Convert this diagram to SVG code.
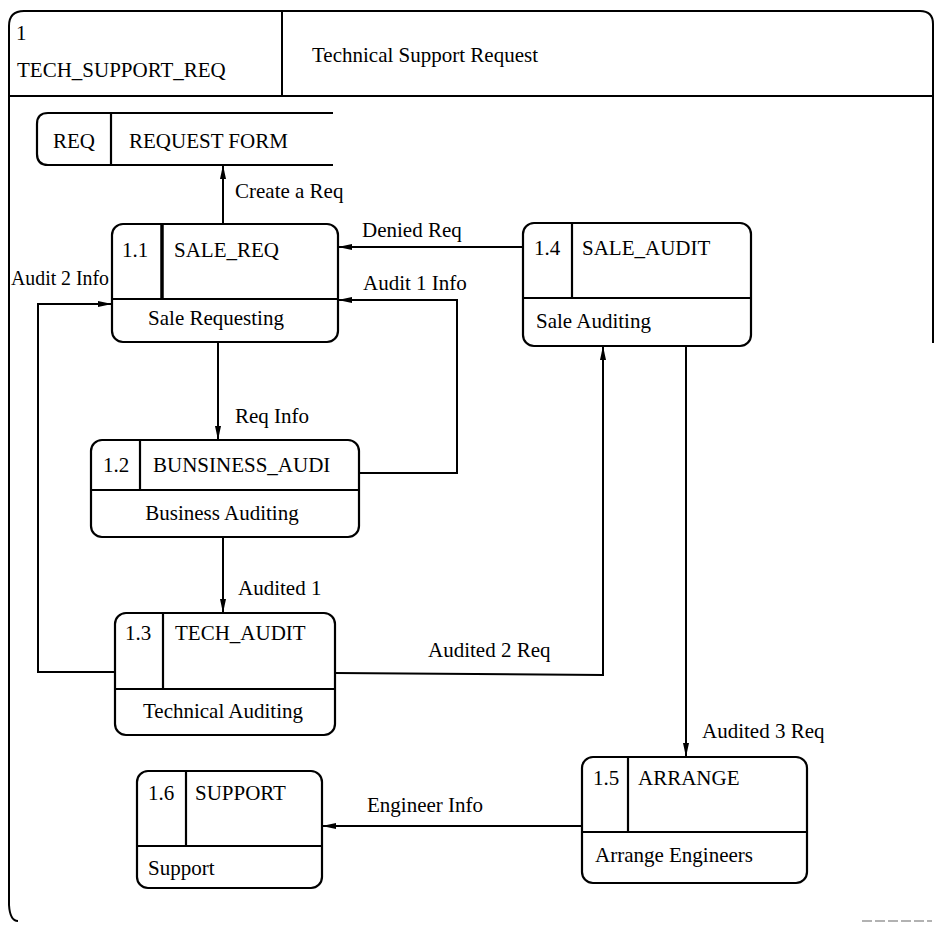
<svg xmlns="http://www.w3.org/2000/svg" width="936" height="925" viewBox="0 0 936 925" font-family="'Liberation Serif','Times New Roman',Times,serif">
<style>
text{font-family:"Liberation Serif","Times New Roman",Times,serif;font-size:21px;fill:#000}
.ln{fill:none;stroke:#000;stroke-width:2}
.box{fill:none;stroke:#000;stroke-width:2.2}
.c{text-anchor:middle}
</style>
<defs>
<marker id="ah" markerWidth="14" markerHeight="8" refX="13" refY="4" orient="auto" markerUnits="userSpaceOnUse">
<path d="M0,1 L14,4 L0,7 Z" fill="#000"/>
</marker>
</defs>
<rect width="936" height="925" fill="#fff"/>
<g id="frame">
<path class="ln" d="M9,905 L9,26 Q9,11 24,11 L920,11 Q933,11 933,24 L933,343"/>
<path class="ln" d="M9,905 Q10,921 18,921"/>
<line class="ln" x1="9" y1="96" x2="933" y2="96"/>
<line class="ln" x1="282" y1="11" x2="282" y2="96"/>
<line x1="862" y1="921" x2="932" y2="921" stroke="#999" stroke-width="1.5" stroke-dasharray="10,3"/>
<text x="16" y="40">1</text>
<text x="17" y="77">TECH_SUPPORT_REQ</text>
<text x="312" y="62">Technical Support Request</text>
</g>
<g id="store-req">
<path class="box" d="M333,113 L48,113 Q37,113 37,124 L37,154 Q37,165 48,165 L333,165"/>
<line class="box" x1="111" y1="113" x2="111" y2="165"/>
<text x="53" y="148">REQ</text>
<text x="129" y="148">REQUEST FORM</text>
</g>
<g id="n11">
<rect class="box" x="112" y="224" width="226" height="118" rx="11"/>
<line x1="162" y1="224" x2="162" y2="299" stroke="#000" stroke-width="3.5"/>
<line class="box" x1="112" y1="299" x2="338" y2="299"/>
<text x="122" y="257">1.1</text>
<text x="174" y="257">SALE_REQ</text>
<text class="c" x="216" y="325">Sale Requesting</text>
</g>
<g id="n14">
<rect class="box" x="523" y="223" width="228" height="123" rx="11"/>
<line class="box" x1="572" y1="223" x2="572" y2="298"/>
<line class="box" x1="523" y1="298" x2="751" y2="298"/>
<text x="534" y="255">1.4</text>
<text x="582" y="255">SALE_AUDIT</text>
<text x="536" y="328">Sale Auditing</text>
</g>
<g id="n12">
<rect class="box" x="91" y="440" width="268" height="97" rx="11"/>
<line class="box" x1="140" y1="440" x2="140" y2="490"/>
<line class="box" x1="91" y1="490" x2="359" y2="490"/>
<text x="103" y="472">1.2</text>
<text x="153" y="472">BUNSINESS_AUDI</text>
<text class="c" x="222" y="520">Business Auditing</text>
</g>
<g id="n13">
<rect class="box" x="115" y="613" width="220" height="122" rx="11"/>
<line class="box" x1="163" y1="613" x2="163" y2="689"/>
<line class="box" x1="115" y1="689" x2="335" y2="689"/>
<text x="125" y="640">1.3</text>
<text x="175" y="640">TECH_AUDIT</text>
<text class="c" x="223" y="718">Technical Auditing</text>
</g>
<g id="n15">
<rect class="box" x="582" y="757" width="225" height="126" rx="11"/>
<line class="box" x1="628" y1="757" x2="628" y2="832"/>
<line class="box" x1="582" y1="832" x2="807" y2="832"/>
<text x="593" y="785">1.5</text>
<text x="638" y="785">ARRANGE</text>
<text x="595" y="862">Arrange Engineers</text>
</g>
<g id="n16">
<rect class="box" x="137" y="771" width="185" height="117" rx="11"/>
<line class="box" x1="186" y1="771" x2="186" y2="846"/>
<line class="box" x1="137" y1="846" x2="322" y2="846"/>
<text x="148" y="800">1.6</text>
<text x="195" y="800">SUPPORT</text>
<text x="148" y="875">Support</text>
</g>
<g id="connectors">
<line class="ln" x1="223" y1="224" x2="223" y2="166" marker-end="url(#ah)"/>
<line class="ln" x1="523" y1="247" x2="339" y2="247" marker-end="url(#ah)"/>
<polyline class="ln" points="359,473 457,473 457,300 339,300" marker-end="url(#ah)"/>
<line class="ln" x1="218" y1="342" x2="218" y2="439" marker-end="url(#ah)"/>
<line class="ln" x1="223" y1="537" x2="223" y2="612" marker-end="url(#ah)"/>
<polyline class="ln" points="115,672 38,672 38,304 111,304" marker-end="url(#ah)"/>
<polyline class="ln" points="335,673 603,675 603,347" marker-end="url(#ah)"/>
<line class="ln" x1="686" y1="346" x2="686" y2="756" marker-end="url(#ah)"/>
<line class="ln" x1="582" y1="826" x2="323" y2="826" marker-end="url(#ah)"/>
<text x="235" y="198">Create a Req</text>
<text x="362" y="237">Denied Req</text>
<text x="363" y="290">Audit 1 Info</text>
<text x="11" y="285" textLength="98" lengthAdjust="spacingAndGlyphs">Audit 2 Info</text>
<text x="235" y="423">Req Info</text>
<text x="238" y="595">Audited 1</text>
<text x="428" y="657">Audited 2 Req</text>
<text x="702" y="738">Audited 3 Req</text>
<text x="367" y="812">Engineer Info</text>
</g>
</svg>
